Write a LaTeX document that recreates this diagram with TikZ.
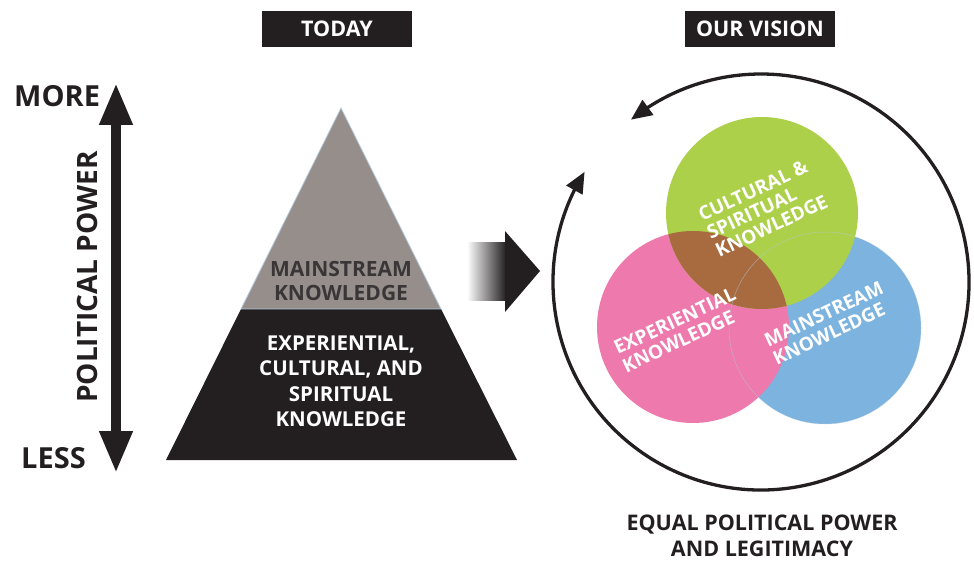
\documentclass[tikz,border=0pt]{standalone}
\usepackage{fontspec}
\setmainfont{Open Sans}
\usetikzlibrary{arrows.meta,bending}
\definecolor{ink}{HTML}{231F20}
\definecolor{pyrgray}{HTML}{958E8B}
\definecolor{edgeblue}{HTML}{B4C9DC}
\definecolor{mstext}{HTML}{3A3637}
\definecolor{vgreen}{HTML}{ADD04B}
\definecolor{vpink}{HTML}{ED79AD}
\definecolor{vblue}{HTML}{7CB3DF}
\definecolor{vbrown}{HTML}{A86B3F}
\tikzset{
  headerbox/.style={fill=ink, text=white, font=\fontsize{21.5}{25}\selectfont\bfseries,
    minimum width=150pt, minimum height=36pt, inner sep=0pt},
  bigword/.style={text=ink, font=\fontsize{29}{32}\selectfont\bfseries, inner sep=0pt},
  pyrtext/.style={font=\fontsize{20.5}{25.5}\selectfont\bfseries, align=center, inner sep=0pt},
  venntext/.style={text=white, font=\fontsize{19}{20}\selectfont\bfseries, align=left,
    rotate=25, inner sep=0pt},
  faint/.style={draw=edgeblue, line width=0.5pt, opacity=0.6},
}
\begin{document}
\begin{tikzpicture}[x=1pt,y=1pt]
\useasboundingbox (0,0) rectangle (974,560);

% headers
\node[headerbox] (today) at (337,531) {TODAY};
\node[headerbox] (vision) at (760,531) {OUR VISION};

% political power axis
\coordinate (ptop) at (116,477);
\coordinate (pbot) at (116,87);
\draw[ink, line width=10pt, {Triangle[length=42pt,width=31pt]}-{Triangle[length=42pt,width=31pt]}] (pbot) -- (ptop);
\node[bigword, anchor=base west] (more) at (14,453) {MORE};
\node[bigword, anchor=base west] (less) at (21,92) {LESS};
\node[bigword, font=\fontsize{28}{32}\selectfont\bfseries, rotate=90] (pp) at (87,283) {POLITICAL POWER};

% pyramid
\coordinate (apex) at (341,452);
\coordinate (bl) at (166,100);
\coordinate (br) at (517,100);
\coordinate (ml) at (241,251);
\coordinate (mr) at (441,251);
\fill[ink] (ml) -- (mr) -- (br) -- (bl) -- cycle;
\filldraw[fill=pyrgray, draw=edgeblue, line width=0.8pt] (apex) -- (mr) -- (ml) -- cycle;
\node[pyrtext, font=\fontsize{21}{24}\selectfont\bfseries, text=mstext] (mainstream) at (341,279.5) {MAINSTREAM\\KNOWLEDGE};
\node[pyrtext, text=white] (experiential) at (341,178.5) {EXPERIENTIAL,\\CULTURAL, AND\\SPIRITUAL\\KNOWLEDGE};

% transition arrow
\shade[left color=white, right color=ink] (467,259) rectangle (506,317);
\fill[ink] (505,329) -- (540,289) -- (505,248) -- cycle;

% cycle arrows
\coordinate (ctr) at (761,278);
\draw[ink, line width=3.3pt, {Triangle[length=21pt,width=18pt]}-{Triangle[length=21pt,width=18pt]}]
  ([shift={(148:208pt)}]ctr) arc[start angle=148, end angle=488.7, radius=208pt];

% venn
\coordinate (cg) at (762,347);
\coordinate (cp) at (693,233);
\coordinate (cb) at (825,232);
\fill[vblue] (cb) circle[radius=96pt];
\fill[vpink] (cp) circle[radius=96pt];
\fill[vgreen] (cg) circle[radius=96pt];
\begin{scope}
  \clip (cp) circle[radius=96pt];
  \fill[vbrown] (cg) circle[radius=96pt];
\end{scope}
\draw[faint] (cb) circle[radius=96pt];
\node[venntext] (tg) at (763,352) {CULTURAL \&\\SPIRITUAL\\KNOWLEDGE};
\node[venntext] (tp) at (679,230) {EXPERIENTIAL\\KNOWLEDGE};
\node[venntext] (tb) at (828,237) {MAINSTREAM\\KNOWLEDGE};

% caption
\node[text=ink, font=\fontsize{21.5}{26}\selectfont\bfseries, align=center, inner sep=0pt] (caption) at (762,24)
  {EQUAL POLITICAL POWER\\AND LEGITIMACY};
\end{tikzpicture}
\end{document}
